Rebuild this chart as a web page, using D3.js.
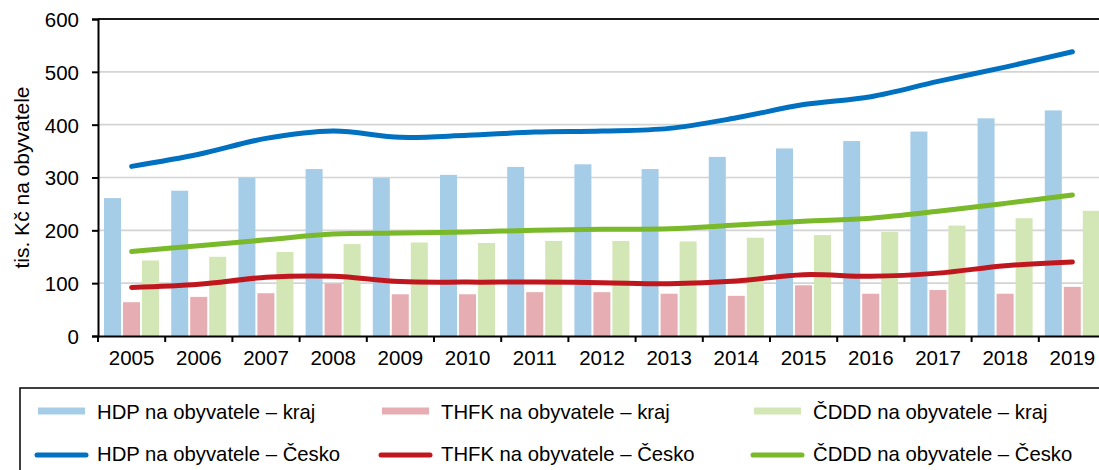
<!DOCTYPE html>
<html><head><meta charset="utf-8">
<script src="https://cdn.jsdelivr.net/npm/d3@7"></script>
<style>
html,body{margin:0;padding:0;overflow:hidden;background:#fff;}
text{font-family:"Liberation Sans",Arial,sans-serif;fill:#000;}
</style></head>
<body>
<svg id="c" width="1099" height="470"></svg>
<script>
const years = ["2005","2006","2007","2008","2009","2010","2011","2012","2013","2014","2015","2016","2017","2018","2019"];
const hdpKraj   = [261,275,300,316,299,305,320,325,316,339,355,369,387,412,427];
const thfkKraj  = [64,74,81,99,79,79,83,83,80,76,96,80,87,80,93];
const cdddKraj  = [143,150,159,174,177,176,180,180,179,186,191,197,209,223,237];
const hdpCesko  = [321,344,374,388,376,380,386,388,393,413,438,453,482,509,538];
const thfkCesko = [92,98,111,113,103,102,102,101,99,104,116,113,119,133,140];
const cdddCesko = [160,171,182,193,195,197,200,202,203,210,217,223,236,251,267];
const yTicks = [0,100,200,300,400,500,600];
const yTitle = "tis. Kč na obyvatele";

const barSeries = [
  {key:"hdpK", name:"HDP na obyvatele – kraj", values:hdpKraj, color:"#A6CDE8"},
  {key:"thfkK", name:"THFK na obyvatele – kraj", values:thfkKraj, color:"#E6AEB2"},
  {key:"cdddK", name:"ČDDD na obyvatele – kraj", values:cdddKraj, color:"#D3E7B6"}
];
const lineSeries = [
  {key:"hdpC", name:"HDP na obyvatele – Česko", values:hdpCesko, color:"#0070C0"},
  {key:"thfkC", name:"THFK na obyvatele – Česko", values:thfkCesko, color:"#C0171F"},
  {key:"cdddC", name:"ČDDD na obyvatele – Česko", values:cdddCesko, color:"#7AB929"}
];

const svg = d3.select("#c");
const mLeft = 98, mTop = 19, mBottom = 336, mRight = 98 + 67.2*15;

const x = d3.scaleBand().domain(years).range([mLeft, mRight]).padding(0);
const y = d3.scaleLinear().domain([0,600]).range([mBottom, mTop]);
const x1 = d3.scaleBand().domain(barSeries.map(s=>s.key)).range([6, 61]).paddingInner(0.105);

// gridlines
svg.append("g").selectAll("line").data(yTicks.filter(t=>t>0 && t<600)).join("line")
  .attr("x1", mLeft).attr("x2", mRight).attr("y1", d=>y(d)).attr("y2", d=>y(d))
  .attr("stroke", "#D4D4D4").attr("stroke-width", 1.6);
// top border
svg.append("line").attr("x1", mLeft).attr("x2", mRight).attr("y1", y(600)).attr("y2", y(600))
  .attr("stroke", "#1a1a1a").attr("stroke-width", 1.8);

// bars
const gb = svg.append("g");
barSeries.forEach(s=>{
  gb.append("g").selectAll("rect").data(s.values).join("rect")
    .attr("x", (d,i)=>x(years[i]) + x1(s.key))
    .attr("width", x1.bandwidth())
    .attr("y", d=>y(d))
    .attr("height", d=>y(0)-y(d))
    .attr("fill", s.color);
});

// lines
const line = d3.line().x((d,i)=>x(years[i]) + x.bandwidth()/2).y(d=>y(d)).curve(d3.curveCatmullRom.alpha(0.5));
lineSeries.forEach(s=>{
  svg.append("path").datum(s.values).attr("d", line)
    .attr("fill","none").attr("stroke", s.color).attr("stroke-width", 5)
    .attr("stroke-linecap","round").attr("stroke-linejoin","round");
});

// y axis
const yAxis = svg.append("g").attr("transform", `translate(${mLeft},0)`)
  .call(d3.axisLeft(y).tickValues(yTicks).tickSize(6).tickPadding(13).tickFormat(d3.format("d")));
yAxis.select(".domain").attr("stroke","#000").attr("stroke-width",2);
yAxis.selectAll(".tick line").attr("stroke","#000").attr("stroke-width",2);
yAxis.selectAll("text").style("font-size","20.5px").attr("dy","0.36em");

// x axis
const xAxis = svg.append("g").attr("transform", `translate(0,${mBottom})`)
  .call(d3.axisBottom(x).tickSize(0).tickPadding(14));
xAxis.select(".domain").attr("stroke","#000").attr("stroke-width",2);
xAxis.selectAll("text").style("font-size","20.5px");
// boundary ticks
svg.append("g").selectAll("line").data(years.concat(["end"])).join("line")
  .attr("x1",(d,i)=>mLeft + i*x.bandwidth()).attr("x2",(d,i)=>mLeft + i*x.bandwidth())
  .attr("y1", mBottom).attr("y2", mBottom+6).attr("stroke","#000").attr("stroke-width",2);

// y title
svg.append("text").attr("transform", `translate(29,${(mTop+mBottom)/2}) rotate(-90)`)
  .attr("text-anchor","middle").style("font-size","21px").text(yTitle);

// legend
svg.append("rect").attr("x",20).attr("y",388).attr("width",1200).attr("height",200)
  .attr("fill","none").attr("stroke","#000").attr("stroke-width",1.5);
const colX = [38, 382, 754];
const lg = svg.append("g");
barSeries.forEach((s,i)=>{
  lg.append("rect").attr("x", colX[i]).attr("y", 407.5).attr("width", 47).attr("height", 7).attr("fill", s.color);
  lg.append("text").attr("x", colX[i]+59).attr("y", 418.5).style("font-size","20.3px").text(s.name);
});
lineSeries.forEach((s,i)=>{
  lg.append("line").attr("x1", colX[i]-1).attr("x2", colX[i]+48).attr("y1", 455).attr("y2", 455)
    .attr("stroke", s.color).attr("stroke-width", 5).attr("stroke-linecap","round");
  lg.append("text").attr("x", colX[i]+59).attr("y", 460.5).style("font-size","20.3px").text(s.name);
});
</script>
</body></html>
